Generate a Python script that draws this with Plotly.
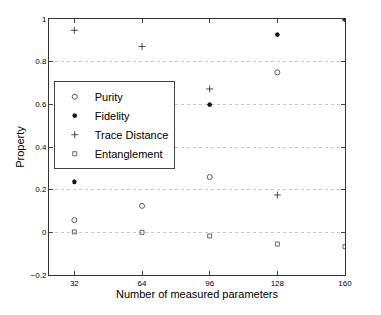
import plotly.graph_objects as go

params = [32, 64, 96, 128, 160]
purity = [0.057, 0.124, 0.259, 0.750, 1.0]
fidelity = [0.237, 0.377, 0.599, 0.927, 1.0]
trace_distance = [0.947, 0.871, 0.672, 0.175, None]
entanglement = [0.002, 0.0, -0.017, -0.055, -0.067]

x_ticks = [32, 64, 96, 128, 160]
y_ticks = [-0.2, 0, 0.2, 0.4, 0.6, 0.8, 1]
y_tick_text = ["\u22120.2", "0", "0.2", "0.4", "0.6", "0.8", "1"]

fig = go.Figure()
fig.add_trace(go.Scatter(x=params, y=purity, mode="markers", name="Purity",
                         marker=dict(symbol="circle-open", size=5, color="#333",
                                     line=dict(width=0.8))))
fig.add_trace(go.Scatter(x=params, y=fidelity, mode="markers", name="Fidelity",
                         marker=dict(symbol="asterisk-open", size=4, color="#111",
                                     line=dict(width=1.2))))
fig.add_trace(go.Scatter(x=params, y=trace_distance, mode="markers", name="Trace Distance",
                         marker=dict(symbol="cross-thin-open", size=5, color="#222",
                                     line=dict(width=0.8))))
fig.add_trace(go.Scatter(x=params, y=entanglement, mode="markers", name="Entanglement",
                         marker=dict(symbol="square-open", size=4, color="#444",
                                     line=dict(width=0.8))))

fig.update_layout(
    width=381, height=315,
    margin=dict(l=41, r=44, t=11, b=48, autoexpand=False),
    plot_bgcolor="white", paper_bgcolor="white",
    font=dict(family="Liberation Sans, Arial, sans-serif", color="#000"),
    showlegend=True,
    legend=dict(x=0.016, y=0.757, xanchor="left", yanchor="top",
                bgcolor="white", bordercolor="#444", borderwidth=1,
                font=dict(size=11), itemwidth=30,
                tracegroupgap=0),
    xaxis=dict(range=[20, 160], tickvals=x_ticks, ticks="inside", ticklen=4,
               showgrid=False, zeroline=False, showline=True, linecolor="#333",
               linewidth=1, mirror="ticks", tickfont=dict(size=8), automargin=False,
               title=dict(text="Number of measured parameters", font=dict(size=11), standoff=1)),
    yaxis=dict(range=[-0.2, 1], tickvals=y_ticks, ticktext=y_tick_text, ticks="inside",
               ticklen=4, showgrid=True, gridcolor="#c8c8c8", griddash="dot", gridwidth=1,
               zeroline=False, showline=True, linecolor="#333", linewidth=1,
               mirror="ticks", tickfont=dict(size=8), automargin=False,
               title=dict(text="Property", font=dict(size=11), standoff=3)),
)

fig.write_html("out.html")
